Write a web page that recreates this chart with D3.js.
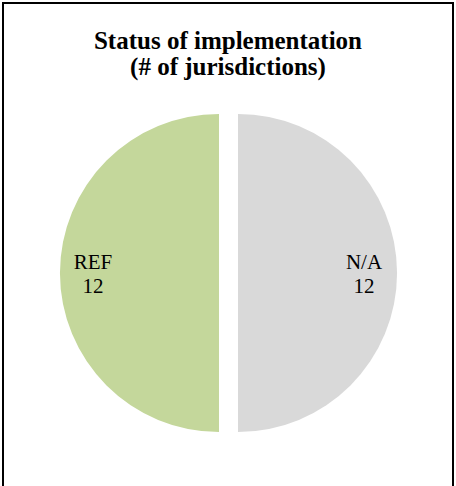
<!DOCTYPE html>
<html>
<head>
<meta charset="utf-8">
<script src="https://cdn.jsdelivr.net/npm/d3@7"></script>
</head>
<body style="margin:0">
<svg id="chart"></svg>
<script>
// data
var categories = ["REF", "N/A"];
var counts = [12, 12];
var colors = ["#c4d79b", "#d9d9d9"];
var titleLines = ["Status of implementation", "(# of jurisdictions)"];

var width = 456, height = 486;
var cx = 228.5, cy = 273, radius = 159, explode = 9.5;
var serif = "'Liberation Serif', serif";

var svg = d3.select("#chart").attr("width", width).attr("height", height);

// frame (bottom edge runs off the picture)
svg.append("rect")
    .attr("x", 3).attr("y", 3)
    .attr("width", 450).attr("height", 492)
    .attr("fill", "none")
    .attr("stroke", "#000")
    .attr("stroke-width", 2);

// title, one text element per line
svg.selectAll(".title")
    .data(titleLines)
    .enter().append("text")
    .attr("class", "title")
    .attr("x", 228)
    .attr("y", function (d, i) { return 49 + i * 26; })
    .attr("text-anchor", "middle")
    .style("font-family", serif)
    .style("font-weight", "bold")
    .style("font-size", "25px")
    .text(function (d) { return d; });

// pie, starting at the left half so REF sits on the left
var pie = d3.pie().sort(null).startAngle(Math.PI).endAngle(3 * Math.PI);
var arcs = pie(counts);

var arc = d3.arc().innerRadius(0).outerRadius(radius);
var labelArc = d3.arc().innerRadius(126).outerRadius(126);

var slices = svg.selectAll(".slice")
    .data(arcs)
    .enter().append("g")
    .attr("class", "slice")
    .attr("transform", function (d) {
        var mid = (d.startAngle + d.endAngle) / 2;
        var dx = Math.sin(mid) * explode, dy = -Math.cos(mid) * explode;
        return "translate(" + (cx + dx) + "," + (cy + dy) + ")";
    });

slices.append("path")
    .attr("d", arc)
    .attr("fill", function (d, i) { return colors[i]; });

// data labels: category on top, value below
function addLabel(line, dy) {
    slices.append("text")
        .attr("text-anchor", "middle")
        .attr("x", function (d) { return labelArc.centroid(d)[0]; })
        .attr("y", function (d) { return labelArc.centroid(d)[1] + dy; })
        .style("font-family", serif)
        .style("font-size", "21px")
        .style("fill", "#000")
        .text(line);
}
addLabel(function (d, i) { return categories[i]; }, -4);
addLabel(function (d) { return d.data; }, 20);
</script>
</body>
</html>
